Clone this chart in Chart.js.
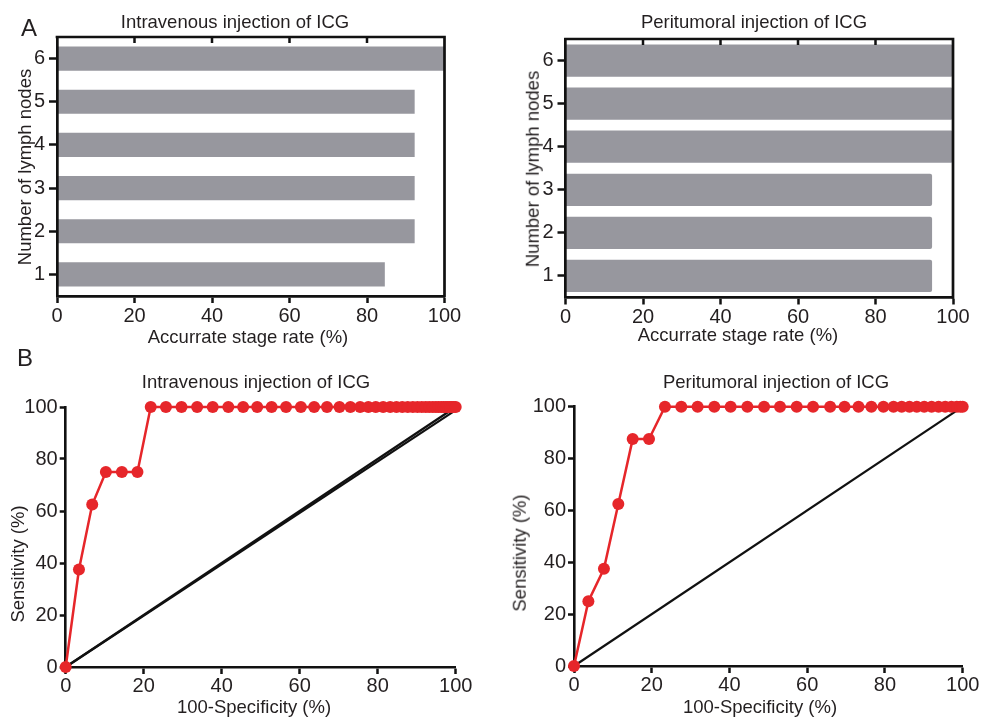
<!DOCTYPE html>
<html><head><meta charset="utf-8">
<script src="https://cdn.jsdelivr.net/npm/chart.js@4.4.1/dist/chart.umd.min.js"></script>
<style>
html,body{margin:0;padding:0;background:#fff;width:982px;height:717px;overflow:hidden;position:relative;}
canvas{position:absolute;}
.t{position:absolute;font-family:"Liberation Sans",Arial,sans-serif;color:#231f20;white-space:nowrap;line-height:1;transform:translate(-50%,-50%);}
.r{transform:translate(-50%,-50%) rotate(-90deg);}
</style></head><body>
<canvas id="a1" width="470" height="350" style="left:0;top:0"></canvas>
<canvas id="a2" width="482" height="350" style="left:500px;top:0"></canvas>
<canvas id="b1" width="490" height="357" style="left:0;top:360px"></canvas>
<canvas id="b2" width="492" height="357" style="left:490px;top:360px"></canvas>

<div class="t" style="left:29px;top:28px;font-size:24px">A</div>
<div class="t" style="left:25px;top:358px;font-size:24px">B</div>

<div class="t" style="left:235px;top:22px;font-size:18.5px">Intravenous injection of ICG</div>
<div class="t" style="left:754px;top:22px;font-size:18.5px">Peritumoral injection of ICG</div>
<div class="t" style="left:256px;top:382px;font-size:18.5px">Intravenous injection of ICG</div>
<div class="t" style="left:776px;top:382px;font-size:18.5px">Peritumoral injection of ICG</div>

<div class="t" style="left:248px;top:337px;font-size:18.5px">Accurrate stage rate (%)</div>
<div class="t r" style="left:25px;top:167px;font-size:18.5px">Number of lymph nodes</div>
<div class="t" style="left:738px;top:335px;font-size:18.5px">Accurrate stage rate (%)</div>
<div class="t r" style="left:533px;top:169px;font-size:18.5px">Number of lymph nodes</div>

<div class="t" style="left:254px;top:707px;font-size:18.5px">100-Specificity (%)</div>
<div class="t r" style="left:18px;top:564px;font-size:18.5px">Sensitivity (%)</div>
<div class="t" style="left:760px;top:707px;font-size:18.5px">100-Specificity (%)</div>
<div class="t r" style="left:520px;top:553px;font-size:18.5px">Sensitivity (%)</div>

<script>
// ---------- data ----------
const barCategories = ['1', '2', '3', '4', '5', '6'];
const intravenousRate = [84.6, 92.3, 92.3, 92.3, 92.3, 100];
const peritumoralRate = [94.6, 94.6, 94.6, 100, 100, 100];
const axisTicks = [0, 20, 40, 60, 80, 100];

const ivOneMinusSpec = [0, 3.4, 6.8, 10.3, 14.4, 18.4, 21.8, 25.7, 29.7, 33.7, 37.7, 41.7, 45.5, 49.1, 52.8, 56.5, 60.3, 63.7, 67.0, 70.2, 73.0, 75.5, 77.6, 79.5, 81.4, 83.2, 84.8, 86.3, 87.7, 89.0, 90.2, 91.3, 92.3, 93.2, 94.1, 94.9, 95.6, 96.3, 96.9, 97.5, 98.0, 98.5, 99.0, 99.5, 100];
const ivSensitivity = [0, 37.5, 62.5, 75, 75, 75, 100, 100, 100, 100, 100, 100, 100, 100, 100, 100, 100, 100, 100, 100, 100, 100, 100, 100, 100, 100, 100, 100, 100, 100, 100, 100, 100, 100, 100, 100, 100, 100, 100, 100, 100, 100, 100, 100, 100];

const ptOneMinusSpec = [0, 3.7, 7.7, 11.4, 15.1, 19.3, 23.4, 27.6, 31.8, 36.1, 40.3, 44.6, 48.9, 53.0, 57.3, 61.5, 65.9, 69.6, 73.2, 76.5, 79.6, 82.2, 84.3, 86.3, 88.2, 90.1, 92.0, 93.8, 95.5, 97.1, 98.5, 99.4, 100];
const ptSensitivity = [0, 25, 37.5, 62.5, 87.5, 87.5, 100, 100, 100, 100, 100, 100, 100, 100, 100, 100, 100, 100, 100, 100, 100, 100, 100, 100, 100, 100, 100, 100, 100, 100, 100, 100, 100];

const refX = [0, 100];
const refY = [0, 100];
const refY2 = [0, 98.8];

// ---------- styles ----------
const INK = '#111111';
const TXT = '#231f20';
const BAR = '#97979e';
const RED = '#e6262a';
Chart.defaults.font.family = "'Liberation Sans', Arial, sans-serif";
Chart.defaults.font.size = 20;
Chart.defaults.color = TXT;

const toPoints = (xs, ys) => xs.map((x, i) => ({ x: x, y: ys[i] }));
const setTicks = (scale) => { scale.ticks = axisTicks.map(v => ({ value: v })); };

const boxPlugin = {
  id: 'box',
  afterDraw(chart) {
    const { ctx, chartArea: a, scales: { x } } = chart;
    ctx.save();
    ctx.strokeStyle = INK;
    ctx.lineWidth = 2.7;
    ctx.beginPath();
    ctx.moveTo(a.left - 1.35, a.top);
    ctx.lineTo(a.right, a.top);
    ctx.lineTo(a.right, a.bottom + 1.35);
    ctx.stroke();
    ctx.lineWidth = 2.5;
    ctx.beginPath();
    axisTicks.forEach(v => {
      if (v > 0 && v < 100) {
        const px = x.getPixelForValue(v);
        ctx.moveTo(px, a.top);
        ctx.lineTo(px, a.top + 6);
      }
    });
    ctx.stroke();
    ctx.restore();
  }
};

function barChart(id, values, barPct, radius, area) {
  return new Chart(document.getElementById(id), {
    type: 'bar',
    data: {
      labels: barCategories,
      datasets: [{
        data: values, backgroundColor: BAR, borderWidth: 0,
        barPercentage: barPct, categoryPercentage: 1,
        borderRadius: radius, borderSkipped: 'start'
      }]
    },
    options: {
      indexAxis: 'y', responsive: false, animation: false,
      layout: { padding: { top: area.top, right: area.right, left: 0, bottom: 0 } },
      plugins: { legend: { display: false }, tooltip: { enabled: false }, title: { display: false } },
      scales: {
        x: {
          type: 'linear', min: 0, max: 100,
          afterBuildTicks: setTicks,
          afterFit: s => { s.height = area.xh; },
          grid: { display: true, drawOnChartArea: false, drawTicks: true, tickLength: 7, tickWidth: 2.5, tickColor: INK, z: 1 },
          border: { display: true, width: 2.7, color: INK, z: 1 },
          ticks: { padding: 1, maxRotation: 0, color: TXT }
        },
        y: {
          type: 'category', reverse: true, offset: true,
          afterFit: s => { s.width = area.yw; },
          grid: { display: true, offset: false, drawOnChartArea: false, drawTicks: true, tickLength: 8, tickWidth: 2.5, tickColor: INK, z: 1 },
          border: { display: true, width: 2.7, color: INK, z: 1 },
          ticks: { padding: 4, color: TXT }
        }
      }
    },
    plugins: [boxPlugin]
  });
}

function rocChart(id, xs, ys, refs, area) {
  const datasets = [{
    data: toPoints(xs, ys), showLine: true, borderColor: RED, backgroundColor: RED,
    borderWidth: 2.5, pointRadius: 6, pointBorderWidth: 0, clip: false, tension: 0
  }];
  refs.forEach(r => datasets.push({
    data: toPoints(refX, r), showLine: true, borderColor: INK, borderWidth: 2.2,
    pointRadius: 0, clip: false
  }));
  return new Chart(document.getElementById(id), {
    type: 'scatter',
    data: { datasets: datasets },
    options: {
      responsive: false, animation: false,
      layout: { padding: { top: area.top, right: area.right, left: 0, bottom: 0 } },
      plugins: { legend: { display: false }, tooltip: { enabled: false }, title: { display: false } },
      scales: {
        x: {
          type: 'linear', min: 0, max: 100,
          afterBuildTicks: setTicks,
          afterFit: s => { s.height = area.xh; },
          grid: { display: true, drawOnChartArea: false, drawTicks: true, tickLength: 7, tickWidth: 2.5, tickColor: INK },
          border: { display: true, width: 2.6, color: INK },
          ticks: { padding: 0, maxRotation: 0, color: TXT }
        },
        y: {
          type: 'linear', min: 0, max: 100,
          afterBuildTicks: setTicks,
          afterFit: s => { s.width = area.yw; },
          grid: { display: true, drawOnChartArea: false, drawTicks: true, tickLength: 6, tickWidth: 2.5, tickColor: INK },
          border: { display: true, width: 2.6, color: INK },
          ticks: { padding: 2, color: TXT }
        }
      }
    }
  });
}

barChart('a1', intravenousRate, 0.56, 0, { top: 37, right: 25.5, yw: 57, xh: 54 });
barChart('a2', peritumoralRate, 0.75, 2, { top: 39, right: 29, yw: 65.5, xh: 52.5 });
rocChart('b1', ivOneMinusSpec, ivSensitivity, [refY, refY2], { top: 47, right: 34.3, yw: 65.7, xh: 50 });
rocChart('b2', ptOneMinusSpec, ptSensitivity, [refY], { top: 46.7, right: 19.3, yw: 84, xh: 51 });
</script>
</body></html>
